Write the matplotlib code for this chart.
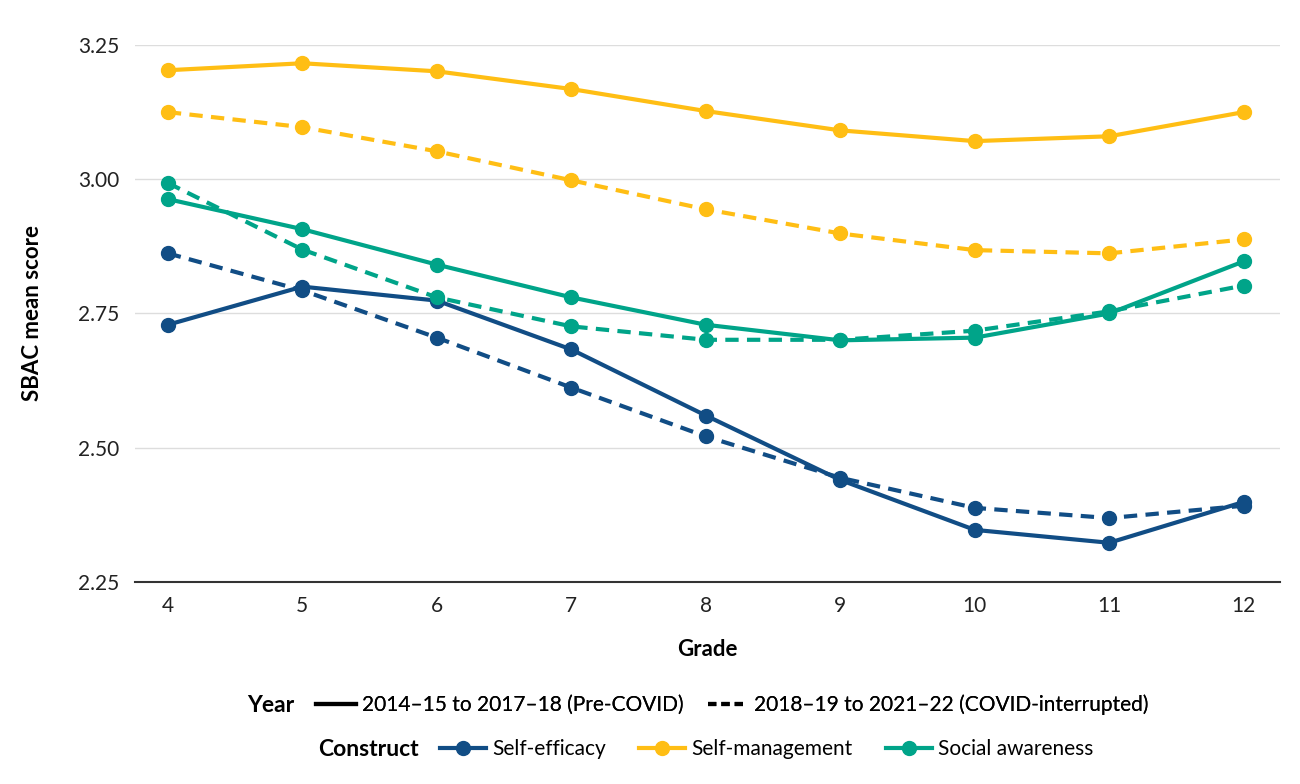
import matplotlib.pyplot as plt
from matplotlib.lines import Line2D

plt.rcParams['font.family'] = ['Lato', 'DejaVu Sans']

# data
grades = [4, 5, 6, 7, 8, 9, 10, 11, 12]

selfeff_pre = [2.729, 2.800, 2.774, 2.683, 2.560, 2.440, 2.347, 2.323, 2.399]
selfeff_covid = [2.862, 2.793, 2.705, 2.612, 2.521, 2.444, 2.388, 2.369, 2.392]

selfman_pre = [3.203, 3.216, 3.201, 3.168, 3.127, 3.091, 3.071, 3.080, 3.125]
selfman_covid = [3.125, 3.097, 3.052, 2.998, 2.944, 2.899, 2.868, 2.862, 2.888]

social_pre = [2.963, 2.907, 2.841, 2.780, 2.729, 2.700, 2.705, 2.750, 2.847]
social_covid = [2.993, 2.869, 2.780, 2.726, 2.701, 2.701, 2.718, 2.754, 2.802]

constructs = ['Self-efficacy', 'Self-management', 'Social awareness']
colors = ['#114d85', '#ffbe14', '#00a489']
pre = [selfeff_pre, selfman_pre, social_pre]
covid = [selfeff_covid, selfman_covid, social_covid]

yticks = [2.25, 2.50, 2.75, 3.00, 3.25]

#------------------------------------PLOT----------------------------------------#
fig = plt.figure(figsize=(13, 7.84), dpi=100)
ax = fig.add_axes([0.1038, 0.2577, 0.8808, 0.6849])

lw = 3
ms = 10
for i in range(3):
    ax.plot(grades, covid[i], color=colors[i], lw=lw, marker='o', ms=ms,
            linestyle=(0, (3.2, 2)), zorder=3)
    ax.plot(grades, pre[i], color=colors[i], lw=lw, marker='o', ms=ms, zorder=3)

ax.set_xlim(3.755, 12.27)
ax.set_ylim(2.25, 3.25)
ax.set_xticks(grades)
ax.set_yticks(yticks)
ax.set_yticklabels(['%.2f' % t for t in yticks])
ax.tick_params(length=0, labelsize=15, colors='#222222', pad=11)
ax.tick_params(axis='x', pad=10)
ax.grid(axis='y', color='#dddddd', lw=1)
ax.set_axisbelow(True)
for s in ['top', 'right', 'left']:
    ax.spines[s].set_visible(False)
ax.spines['bottom'].set_color('#333333')
ax.spines['bottom'].set_linewidth(1.5)
ax.spines['bottom'].set_zorder(1)

fig.text(707/1300, 1 - 649/784, 'Grade', ha='center', va='center',
         fontsize=16, fontweight='bold')
fig.text(33/1300, 1 - 313/784, 'SBAC mean score', ha='center', va='center',
         rotation=90, fontsize=16, fontweight='bold')

# legend rows
fig.text(294/1300, 1 - 705/784, 'Year', ha='right', va='center',
         fontsize=16.5, fontweight='bold')
year_handles = [Line2D([], [], color='black', lw=lw),
                Line2D([], [], color='black', lw=lw, linestyle=(0, (2, 1.2)))]
leg1 = fig.legend(year_handles, ['2014\u201315 to 2017\u201318 (Pre-COVID)',
                                 '2018\u201319 to 2021\u201322 (COVID-interrupted)'],
                  loc='center left', bbox_to_anchor=(316/1300, 1 - 705/784),
                  ncol=2, frameon=False, fontsize=15, handlelength=1.9,
                  handletextpad=0.3, columnspacing=1.2, borderpad=0, borderaxespad=0)

fig.text(419/1300, 1 - 749/784, 'Construct', ha='right', va='center',
         fontsize=16.5, fontweight='bold')
con_handles = [Line2D([], [], color=c, lw=lw, marker='o', ms=ms) for c in colors]
leg2 = fig.legend(con_handles, constructs,
                  loc='center left', bbox_to_anchor=(440/1300, 1 - 749/784),
                  ncol=3, frameon=False, fontsize=15, handlelength=2.2,
                  handletextpad=0.3, columnspacing=1.6, borderpad=0, borderaxespad=0)
fig.add_artist(leg1)

plt.savefig('out.png', dpi=100)
